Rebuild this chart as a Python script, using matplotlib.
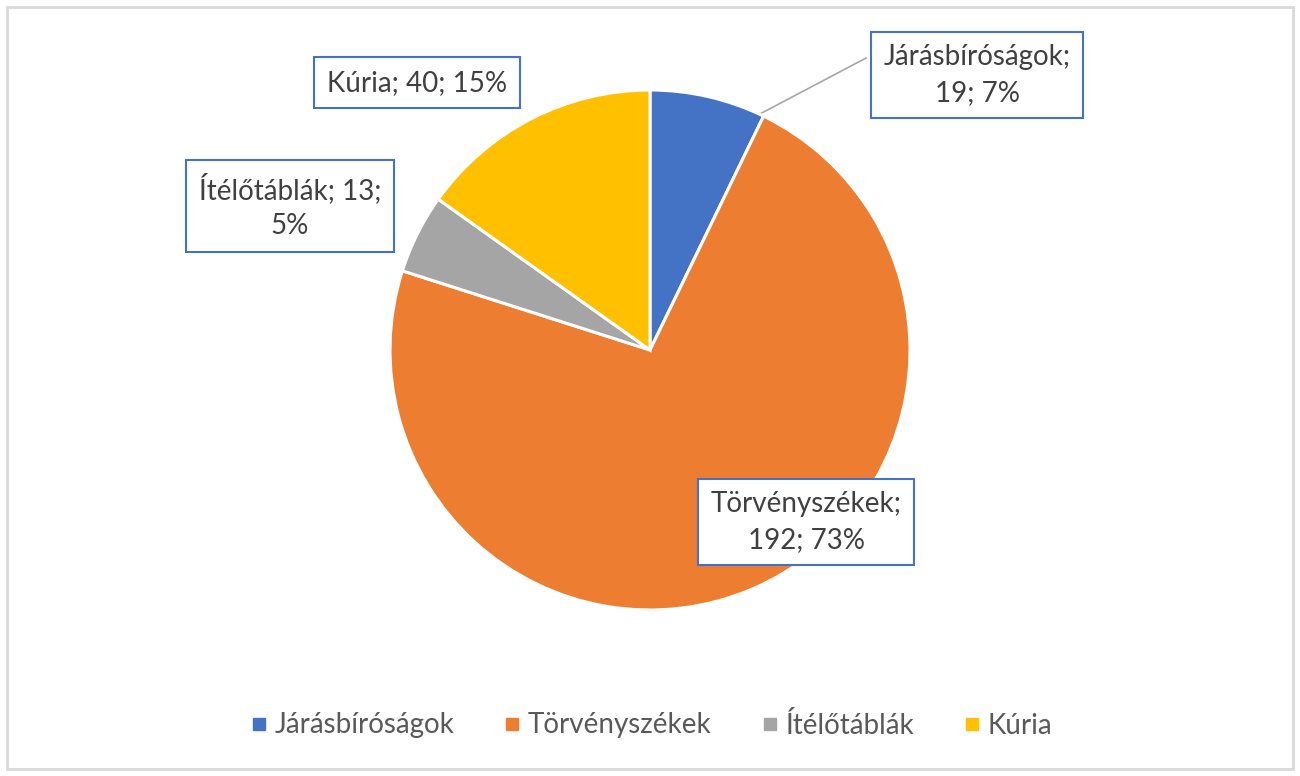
import numpy as np
import matplotlib
matplotlib.use("Agg")
import matplotlib.pyplot as plt
from matplotlib.patches import Rectangle
from matplotlib.lines import Line2D

plt.rcParams['font.family'] = ['Lato', 'DejaVu Sans']

categories = ["Járásbíróságok", "Törvényszékek", "Ítélőtáblák", "Kúria"]
values = [19, 192, 13, 40]
percents = ["7%", "73%", "5%", "15%"]
label_text = ["Járásbíróságok;\n19; 7%", "Törvényszékek;\n192; 73%",
              "Ítélőtáblák; 13;\n5%", "Kúria; 40; 15%"]
colors = ["#4472C4", "#ED7D31", "#A5A5A5", "#FFC000"]
# label centres in pie-radius units
label_pos = [(1.258, 1.058), (0.60, -0.662), (-1.385, 0.554), (-0.896, 1.027)]

W, H = 1300, 776
fig = plt.figure(figsize=(W / 100, H / 100), dpi=100)
fig.patch.set_facecolor("white")
fig.add_artist(Rectangle((7 / W, 7 / H), 1 - 14 / W, 1 - 14 / H,
                         transform=fig.transFigure, fill=False,
                         edgecolor="#D9D9D9", linewidth=2))

ax = fig.add_axes([390 / W, 1 - 610 / H, 520 / W, 520 / H])
wedges, _ = ax.pie(values, colors=colors, startangle=90, counterclock=False,
                   radius=1, wedgeprops=dict(edgecolor="white", linewidth=2.2))
ax.set_xlim(-1, 1)
ax.set_ylim(-1, 1)
ax.set_aspect("equal")
ax.axis("off")

for i, (txt, (x, y)) in enumerate(zip(label_text, label_pos)):
    ax.text(x, y, txt, ha="center", va="center", fontsize=20, color="#404040",
            linespacing=1.45, clip_on=False,
            bbox=dict(boxstyle="square,pad=0.45", facecolor="white",
                      edgecolor="#4472C4", linewidth=1.5))

# leader line for the small first slice
w0 = wedges[0]
ang = np.deg2rad(w0.theta1 + 1.0)
ax.plot([np.cos(ang), 0.831], [np.sin(ang), 1.123], color="#A6A6A6",
        linewidth=1.2, clip_on=False, zorder=0.5)

handles = [Line2D([0], [0], marker="s", linestyle="none", markersize=8,
                  markerfacecolor=c, markeredgecolor=c) for c in colors]
fig.legend(handles, categories, loc="center", bbox_to_anchor=(0.5, 1 - 725 / H),
           ncol=4, frameon=False, fontsize=20, labelcolor="#595959",
           handletextpad=0.15, columnspacing=1.7, handlelength=0.8)

fig.savefig("out.png", dpi=100)
